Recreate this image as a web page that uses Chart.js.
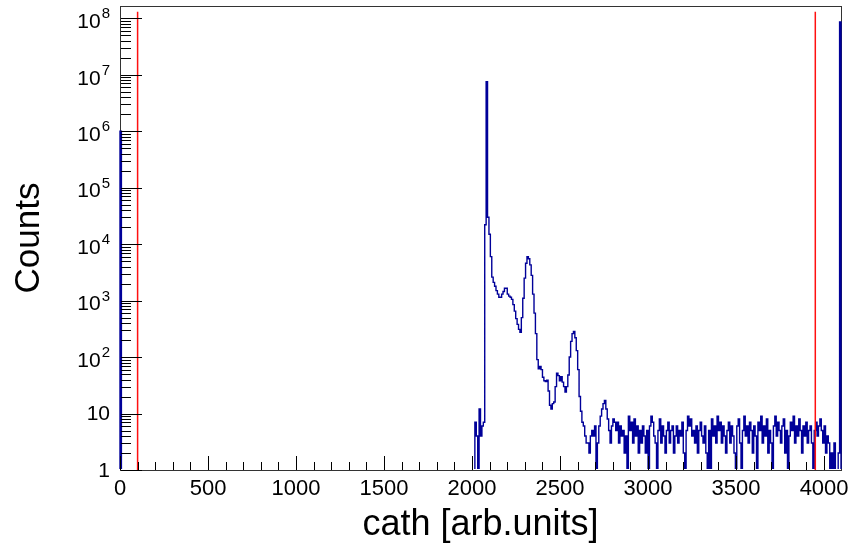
<!DOCTYPE html>
<html>
<head>
<meta charset="utf-8">
<script src="https://cdn.jsdelivr.net/npm/chart.js@4.4.1/dist/chart.umd.min.js"></script>
<style>
  body { margin: 0; background: #fff; }
  canvas { display: block; }
</style>
</head>
<body>
<canvas id="cathChart" width="851" height="549"></canvas>
<script>
// histogram binning
const binWidth = 8;
const xMax = 4096;
const lowBinCount = 1.0e6;      // bin [0, 8)
const spectrumStart = 2000;

// bins from 2000 up to the end of the structure (~2650)
const peakCounts = [
  0, 0, 7, 4, 0, 12, 4, 6, 7, 22000,
  7.5e6, 30000, 15000, 6000, 2600, 2100, 1800, 1500, 1300, 1150,
  1150, 1300, 1450, 1650, 1650, 1300, 1200, 1150, 1050, 850,
  650, 480, 380, 310, 275, 500, 1100, 2500, 4600, 6000,
  5500, 4300, 2800, 1300, 600, 260, 90, 62, 68, 60,
  44, 38, 37, 39, 25, 14, 12, 15, 16, 30,
  52, 47, 38, 45, 36, 30, 24, 30, 48, 100,
  190, 260, 285, 220, 130, 60, 20, 11, 7, 6,
  4, 3
];

// flat noisy tail (~2656 .. 4088)
const tailCounts = [
  3, 2, 4, 5, 4, 6, 0, 3, 6, 9,
  12, 15, 17, 12, 8, 5, 3, 6, 8, 7,
  5, 7, 3, 6, 4, 5, 2, 4, 0, 9,
  5, 7, 3, 8, 4, 6, 2, 5, 3, 6,
  4, 2, 5, 0, 6, 9, 7, 4, 3, 0,
  5, 8, 3, 6, 4, 2, 5, 7, 3, 5,
  6, 2, 4, 6, 3, 5, 4, 7, 2, 0,
  5, 9, 6, 8, 4, 5, 3, 6, 2, 5,
  7, 4, 3, 6, 2, 0, 5, 0, 8, 4,
  6, 3, 9, 5, 7, 3, 6, 4, 2, 5,
  7, 3, 6, 4, 2, 0, 6, 8, 3, 0,
  5, 9, 4, 6, 3, 7, 5, 2, 6, 4,
  0, 7, 5, 9, 3, 6, 4, 8, 2, 5,
  3, 0, 6, 9, 4, 7, 5, 3, 6, 8,
  2, 5, 0, 4, 7, 5, 9, 3, 6, 4,
  8, 5, 2, 6, 4, 7, 3, 5, 6, 3,
  0, 5, 7, 4, 6, 8, 5, 3, 6, 2,
  4, 3, 0, 2, 0, 3, 0, 1, 2
];

const lastBinCount = 8.6e7;     // bin [4088, 4096)

// red cut lines
const cutLines = [100, 3950];
const cutTop = 1.3e8;

// axes
const yMin = 1;
const yMax = 1.65e8;
const xTickValues = [0, 500, 1000, 1500, 2000, 2500, 3000, 3500, 4000];
const yDecades = [1, 10, 100, 1e3, 1e4, 1e5, 1e6, 1e7, 1e8];

const FONT = '"Liberation Sans", Arial, Helvetica, sans-serif';

// empty bins sit on the bottom of the log axis (log scale drops zeros otherwise)
const floor = c => Math.max(c, yMin);

const spectrumCounts = peakCounts.concat(tailCounts, [lastBinCount]);
const histPoints = [
  { x: 0, y: yMin },
  { x: 0, y: floor(lowBinCount) },
  { x: binWidth, y: yMin }
];
spectrumCounts.forEach((c, i) => {
  histPoints.push({ x: spectrumStart + i * binWidth, y: floor(c) });
});
histPoints.push({ x: spectrumStart + spectrumCounts.length * binWidth, y: yMin });

// ROOT-like frame, ticks inside the frame, decade labels with exponents
const rootAxes = {
  id: 'rootAxes',
  beforeDatasetsDraw(chart) {
    const { ctx, chartArea: a } = chart;
    ctx.save();
    ctx.strokeStyle = '#333';
    ctx.lineWidth = 1;
    ctx.strokeRect(Math.round(a.left) + 0.5, Math.round(a.top) + 0.5,
      Math.round(a.right - a.left), Math.round(a.bottom - a.top));
    ctx.restore();
  },
  afterDatasetsDraw(chart) {
    const { ctx, chartArea: a, scales: { x, y } } = chart;
    ctx.save();
    ctx.strokeStyle = '#000';
    ctx.lineWidth = 1;
    ctx.beginPath();
    for (let v = 0; v <= xMax; v += 100) {
      const px = Math.round(x.getPixelForValue(v)) + 0.5;
      const len = v % 500 === 0 ? 14 : 8;
      ctx.moveTo(px, a.bottom);
      ctx.lineTo(px, a.bottom - len);
    }
    yDecades.forEach(d => {
      for (let m = 1; m <= 9; m++) {
        const v = m * d;
        if (v > yMax) break;
        const py = Math.round(y.getPixelForValue(v)) + 0.5;
        ctx.moveTo(a.left + 1, py);
        ctx.lineTo(a.left + (m === 1 ? 22 : 11), py);
      }
    });
    ctx.stroke();

    ctx.fillStyle = '#000';
    ctx.textAlign = 'right';
    ctx.textBaseline = 'middle';
    const xr = a.left - 10;
    yDecades.forEach((d, e) => {
      const py = y.getPixelForValue(d);
      if (e < 2) {
        ctx.font = '21px ' + FONT;
        ctx.fillText(String(d), xr, py + 1);
      } else {
        ctx.font = '15px ' + FONT;
        const ex = String(e);
        ctx.fillText(ex, xr, py - 4);
        const w = ctx.measureText(ex).width;
        ctx.font = '21px ' + FONT;
        ctx.fillText('10', xr - w - 1, py + 4);
      }
    });
    ctx.restore();
  }
};

const ctx = document.getElementById('cathChart');
new Chart(ctx, {
  type: 'line',
  data: {
    datasets: [
      {
        data: histPoints,
        borderColor: '#000099',
        borderWidth: 1.4,
        stepped: 'before',
        pointRadius: 0,
        fill: false,
        clip: { left: 1, top: 1, right: 1, bottom: -1 },
        order: 1
      },
      ...cutLines.map(v => ({
        data: [{ x: v, y: yMin }, { x: v, y: cutTop }],
        borderColor: '#ff1010',
        borderWidth: 1.5,
        pointRadius: 0,
        fill: false,
        order: 0
      }))
    ]
  },
  options: {
    responsive: false,
    animation: false,
    layout: { padding: { top: 6, right: 10, left: 0, bottom: 0 } },
    plugins: { legend: { display: false }, tooltip: { enabled: false } },
    scales: {
      x: {
        type: 'linear',
        min: 0,
        max: xMax,
        grid: { display: false, drawTicks: false },
        border: { display: false },
        afterBuildTicks: scale => { scale.ticks = xTickValues.map(v => ({ value: v })); },
        afterFit: scale => {
          scale.height = 79;
          scale.paddingLeft = 0;
          scale.paddingRight = 0;
        },
        ticks: {
          autoSkip: false,
          maxRotation: 0,
          padding: 6,
          color: '#000',
          font: { family: FONT, size: 22 },
          callback: v => String(v)
        },
        title: {
          display: true,
          text: 'cath [arb.units]',
          color: '#000',
          font: { family: FONT, size: 36 },
          padding: { top: 0, bottom: 2 }
        }
      },
      y: {
        type: 'logarithmic',
        min: yMin,
        max: yMax,
        grid: { display: false, drawTicks: false },
        border: { display: false },
        ticks: { display: false },
        afterFit: scale => {
          scale.width = 120;
          scale.paddingTop = 0;
          scale.paddingBottom = 0;
        },
        title: {
          display: true,
          text: 'Counts',
          color: '#000',
          font: { family: FONT, size: 35 },
          padding: { top: 8, bottom: 0 }
        }
      }
    }
  },
  plugins: [rootAxes]
});
</script>
</body>
</html>
